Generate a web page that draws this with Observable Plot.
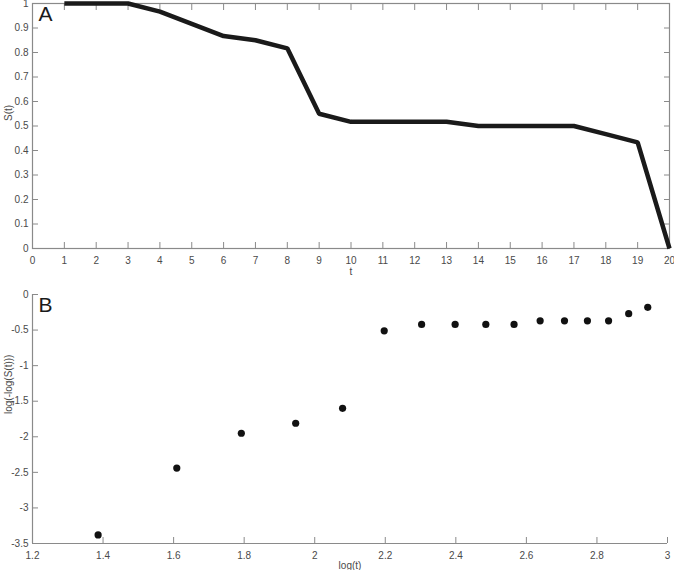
<!DOCTYPE html>
<html>
<head>
<meta charset="utf-8">
<script src="https://cdn.jsdelivr.net/npm/d3@7"></script>
<script src="https://cdn.jsdelivr.net/npm/@observablehq/plot@0.6"></script>
<style>
  html, body { margin: 0; padding: 0; background: #fff; }
  #chart svg { display: block; }
</style>
</head>
<body>
<div id="chart"></div>
<script>
// Panel A: survival function S(t)
const tValues = [1, 2, 3, 4, 5, 6, 7, 8, 9, 10, 11, 12, 13, 14, 15, 16, 17, 18, 19, 20];
const sValues = [1, 1, 1, 0.967, 0.917, 0.867, 0.85, 0.817, 0.55, 0.517, 0.517, 0.517, 0.517, 0.5, 0.5, 0.5, 0.5, 0.467, 0.433, 0];
const xTicksA = d3.range(0, 21, 1);
const yTicksA = [0, 0.1, 0.2, 0.3, 0.4, 0.5, 0.6, 0.7, 0.8, 0.9, 1];

// Panel B: log(-log(S(t))) vs log(t)
const logT = [1.386, 1.609, 1.792, 1.946, 2.079, 2.197, 2.303, 2.398, 2.485, 2.565, 2.639, 2.708, 2.773, 2.833, 2.890, 2.944];
const logLogS = [-3.38, -2.44, -1.95, -1.81, -1.60, -0.51, -0.42, -0.42, -0.42, -0.42, -0.37, -0.37, -0.37, -0.37, -0.27, -0.18];
const xTicksB = [1.2, 1.4, 1.6, 1.8, 2, 2.2, 2.4, 2.6, 2.8, 3];
const yTicksB = [0, -0.5, -1, -1.5, -2, -2.5, -3, -3.5];

const dataA = tValues.map((t, i) => ({t, s: sValues[i]}));
const dataB = logT.map((x, i) => ({x, y: logLogS[i]}));

const axisColor = "#8a8a8a";
const textColor = "#4a4a4a";
const font = "Liberation Sans, Arial, sans-serif";
const fmt = d => String(d);

const plotA = Plot.plot({
  width: 674,
  height: 280,
  marginTop: 3,
  marginRight: 5,
  marginBottom: 32,
  marginLeft: 32,
  style: {fontFamily: font, fontSize: "10px", color: textColor, background: "#fff"},
  x: {domain: [0, 20]},
  y: {domain: [0, 1]},
  marks: [
    Plot.frame({stroke: axisColor, strokeWidth: 1.2}),
    Plot.axisX(xTicksA, {anchor: "bottom", tickSize: -6, stroke: axisColor, tickFormat: () => "", label: null}),
    Plot.axisX(xTicksA, {anchor: "top", tickSize: -6, stroke: axisColor, tickFormat: () => "", label: null}),
    Plot.axisY(yTicksA, {anchor: "left", tickSize: -6, stroke: axisColor, tickFormat: () => "", label: null}),
    Plot.axisY(yTicksA, {anchor: "right", tickSize: -6, stroke: axisColor, tickFormat: () => "", label: null}),
    Plot.axisX(xTicksA, {anchor: "bottom", tickSize: 0, tickPadding: 8, tickFormat: fmt, fill: textColor, label: null}),
    Plot.axisY(yTicksA, {anchor: "left", tickSize: 0, tickPadding: 4, tickFormat: fmt, fill: textColor, label: null}),
    Plot.line(dataA, {x: "t", y: "s", stroke: "#1a1a1a", strokeWidth: 4.5, strokeLinejoin: "miter", strokeLinecap: "butt"}),
    Plot.text(["t"], {frameAnchor: "bottom", dy: 23, lineAnchor: "middle", fill: textColor, fontSize: 10}),
    Plot.text(["S(t)"], {frameAnchor: "left", rotate: -90, dx: -24, dy: -5, fill: textColor, fontSize: 10}),
    Plot.text(["A"], {frameAnchor: "top-left", dx: 6, dy: 3, fontSize: 21, textAnchor: "start", lineAnchor: "top", fill: "#1a1a1a"})
  ]
});

const plotB = Plot.plot({
  width: 674,
  height: 290,
  marginTop: 14,
  marginRight: 7,
  marginBottom: 27,
  marginLeft: 32,
  style: {fontFamily: font, fontSize: "10px", color: textColor, background: "#fff"},
  x: {domain: [1.2, 3]},
  y: {domain: [-3.5, 0]},
  marks: [
    Plot.ruleY([-3.5], {stroke: axisColor, strokeWidth: 1.2}),
    Plot.ruleX([1.2], {stroke: axisColor, strokeWidth: 1.2}),
    Plot.axisX(xTicksB, {anchor: "bottom", tickSize: -6, stroke: axisColor, tickFormat: () => "", label: null}),
    Plot.axisY(yTicksB, {anchor: "left", tickSize: -6, stroke: axisColor, tickFormat: () => "", label: null}),
    Plot.axisX(xTicksB, {anchor: "bottom", tickSize: 0, tickPadding: 8, tickFormat: fmt, fill: textColor, label: null}),
    Plot.axisY(yTicksB, {anchor: "left", tickSize: 0, tickPadding: 4, tickFormat: fmt, fill: textColor, label: null}),
    Plot.dot(dataB, {x: "x", y: "y", r: 3.6, fill: "#111", stroke: null}),
    Plot.text(["log(t)"], {frameAnchor: "bottom", dy: 22, lineAnchor: "middle", fill: textColor, fontSize: 10}),
    Plot.text(["log(-log(S(t)))"], {frameAnchor: "left", rotate: -90, dx: -24, dy: -5, fill: textColor, fontSize: 10}),
    Plot.text(["B"], {frameAnchor: "top-left", dx: 6, dy: 3, fontSize: 21, textAnchor: "start", lineAnchor: "top", fill: "#1a1a1a"})
  ]
});

const chart = document.getElementById("chart");
chart.appendChild(plotA);
chart.appendChild(plotB);
</script>
</body>
</html>
